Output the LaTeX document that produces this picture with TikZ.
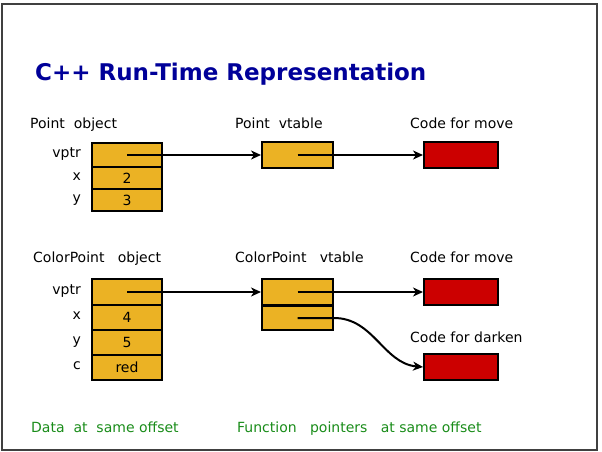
\documentclass[tikz,border=0pt]{standalone}
\usepackage{fontspec}
\setmainfont{DejaVu Sans}
\usetikzlibrary{arrows,arrows.meta,positioning}
\pgfdeclarelayer{nodelayer}
\pgfdeclarelayer{edgelayer}
\pgfsetlayers{nodelayer,edgelayer,main}
\definecolor{gold}{RGB}{235,178,36}
\definecolor{cred}{RGB}{204,0,0}
\definecolor{tblue}{RGB}{0,0,153}
\definecolor{dgreen}{RGB}{25,140,25}
\tikzset{font=\fontsize{14}{16}\selectfont}
\tikzstyle{field}=[rectangle,fill=gold,draw=black,line width=2,minimum width=70pt,inner sep=0]
\tikzstyle{code}=[rectangle,fill=cred,draw=black,line width=2,minimum width=74pt,minimum height=26pt,inner sep=0]
\tikzstyle{caption}=[anchor=base west,inner sep=0]
\tikzstyle{slot}=[anchor=mid east,inner sep=0]
\tikzstyle{note}=[anchor=base west,inner sep=0,text=dgreen]
\tikzstyle{ptr}=[->, >={Stealth[length=10pt,width=9pt,inset=3pt]}, line width=2]

\begin{document}
\begin{tikzpicture}[x=1pt,y=-1pt]
	\useasboundingbox (0,0) rectangle (602,452);
	\draw [line width=2, black!75] (2,4) rectangle (597,450);
	\begin{pgfonlayer}{nodelayer}
		\node [anchor=base west, inner sep=0, text=tblue, font=\fontsize{23}{26}\selectfont\bfseries] (title) at (35,81) {C++ Run-Time Representation};
		% Point
		\node [style=caption] (pobj) at (30,128) {Point\ \ object};
		\node [style=caption] (pvt) at (235,128) {Point\ \ vtable};
		\node [style=caption] (pcode) at (410,128) {Code for move};
		\node [style=field, minimum height=24pt] (pvptr) at (127,155) {};
		\node [style=field, minimum height=22pt] (px) at (127,178) {2};
		\node [style=field, minimum height=22pt] (py) at (127,200) {3};
		\node [style=slot] (lpvptr) at (81,155) {vptr};
		\node [style=slot] (lpx) at (81,178) {x};
		\node [style=slot] (lpy) at (81,200) {y};
		\node [style=field, minimum width=71pt, minimum height=26pt] (ptab) at (297.5,155) {};
		\node [style=code] (pmove) at (461,155) {};
		% ColorPoint
		\node [style=caption] (cobj) at (33,262) {ColorPoint\ \ \ object};
		\node [style=caption] (cvt) at (235,262) {ColorPoint\ \ \ vtable};
		\node [style=caption] (ccode) at (410,262) {Code for move};
		\node [style=caption] (dcode) at (410,342) {Code for darken};
		\node [style=field, minimum height=26pt] (cvptr) at (127,292) {};
		\node [style=field, minimum height=25pt] (cx) at (127,317) {4};
		\node [style=field, minimum height=25pt] (cy) at (127,342) {5};
		\node [style=field, minimum height=25pt] (cc) at (127,367) {red};
		\node [style=slot] (lcvptr) at (81,292) {vptr};
		\node [style=slot] (lcx) at (81,317) {x};
		\node [style=slot] (lcy) at (81,342) {y};
		\node [style=slot] (lcc) at (81,367) {c};
		\node [style=field, minimum width=71pt, minimum height=26pt] (ctab1) at (297.5,292) {};
		\node [style=field, minimum width=71pt, minimum height=24pt] (ctab2) at (297.5,318) {};
		\node [style=code] (cmove) at (461,292) {};
		\node [style=code] (cdark) at (461,367) {};
		% notes
		\node [style=note] (ndata) at (31,432) {Data\ \ at\ \ same offset};
		\node [style=note] (nfun) at (237,432) {Function\ \ \ pointers\ \ \ at same offset};
	\end{pgfonlayer}
	\begin{pgfonlayer}{edgelayer}
		\draw [style=ptr] (pvptr.center) to (ptab.west);
		\draw [style=ptr] (ptab.center) to (pmove.west);
		\draw [style=ptr] (cvptr.center) to (ctab1.west);
		\draw [style=ptr] (ctab1.center) to (cmove.west);
		\draw [style=ptr] (ctab2.center) to (ctab2.east) to [out=0, in=175] (cdark.west);
	\end{pgfonlayer}
\end{tikzpicture}
\end{document}
